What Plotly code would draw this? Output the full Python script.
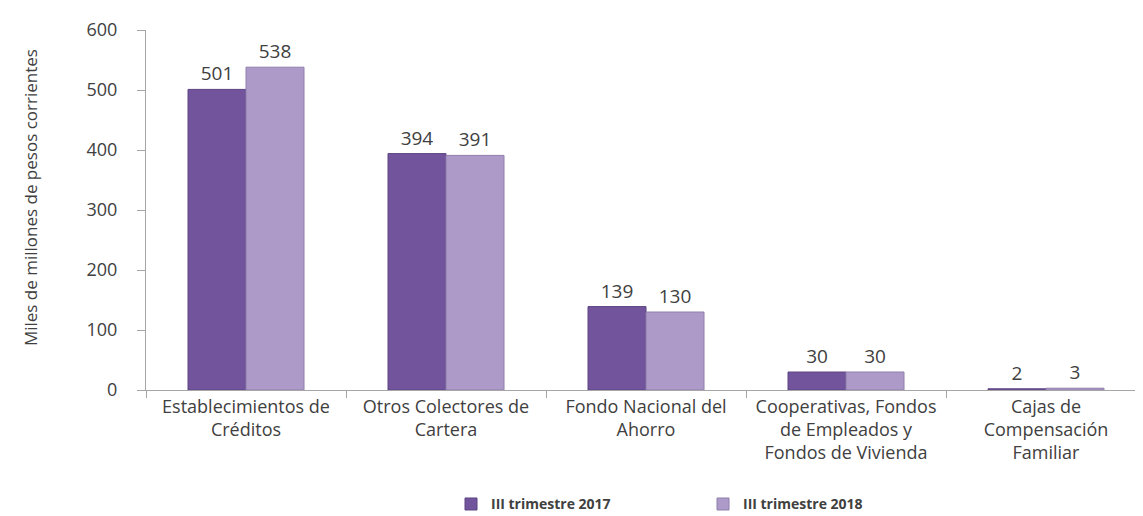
import plotly.graph_objects as go

categories = [
    "Establecimientos de<br>Créditos",
    "Otros Colectores de<br>Cartera",
    "Fondo Nacional del<br>Ahorro",
    "Cooperativas, Fondos<br>de Empleados y<br>Fondos de Vivienda",
    "Cajas de<br>Compensación<br>Familiar",
]
series_names = ["III trimestre 2017", "III trimestre 2018"]
values_2017 = [501, 394, 139, 30, 2]
values_2018 = [538, 391, 130, 30, 3]
y_ticks = [0, 100, 200, 300, 400, 500, 600]
y_title = "Miles de millones de pesos corrientes"

FONT = "'Open Sans', sans-serif"

fig = go.Figure()
fig.add_trace(go.Bar(
    name=series_names[0], x=categories, y=values_2017,
    marker=dict(color="#72549c", line=dict(color="#5c4282", width=1)),
    text=[str(v) for v in values_2017], textposition="outside",
    textfont=dict(size=19, color="#404040", family=FONT),
    cliponaxis=False,
))
fig.add_trace(go.Bar(
    name=series_names[1], x=categories, y=values_2018,
    marker=dict(color="#ad9ac9", line=dict(color="#8f7fab", width=1)),
    text=[str(v) for v in values_2018], textposition="outside",
    textfont=dict(size=19, color="#404040", family=FONT),
    cliponaxis=False,
))

fig.update_layout(
    width=1143, height=516,
    margin=dict(l=138, r=5, t=22, b=134),
    plot_bgcolor="white", paper_bgcolor="white",
    barmode="group", bargap=0.42, bargroupgap=0,
    font=dict(family=FONT, size=18, color="#404040"),
    showlegend=True,
    legend=dict(
        orientation="h", x=0.305, xanchor="left",
        yref="container", y=0.038, yanchor="middle",
        font=dict(size=14, color="#404040", family=FONT, weight="bold"),
        entrywidth=207, entrywidthmode="pixels",
        bgcolor="rgba(0,0,0,0)",
    ),
    xaxis=dict(
        showline=True, linecolor="#a6a6a6", linewidth=1,
        ticks="outside", tickson="boundaries", ticklen=7, tickcolor="#a6a6a6",
        tickfont=dict(size=18, color="#404040"),
        showgrid=False, automargin=False,
    ),
    yaxis=dict(
        range=[0, 600], tickvals=y_ticks,
        showline=True, linecolor="#a6a6a6", linewidth=1,
        ticks="outside", ticklen=8, tickcolor="#a6a6a6",
        tickfont=dict(size=18, color="#404040"),
        ticklabelstandoff=16,
        showgrid=False, zeroline=False, automargin=False,
    ),
    annotations=[dict(
        text=y_title, textangle=-90, showarrow=False,
        xref="paper", yref="paper", x=-0.116, y=0.533,
        xanchor="center", yanchor="middle",
        font=dict(size=17, color="#404040", family=FONT),
    )],
)

fig.write_html("out.html")
